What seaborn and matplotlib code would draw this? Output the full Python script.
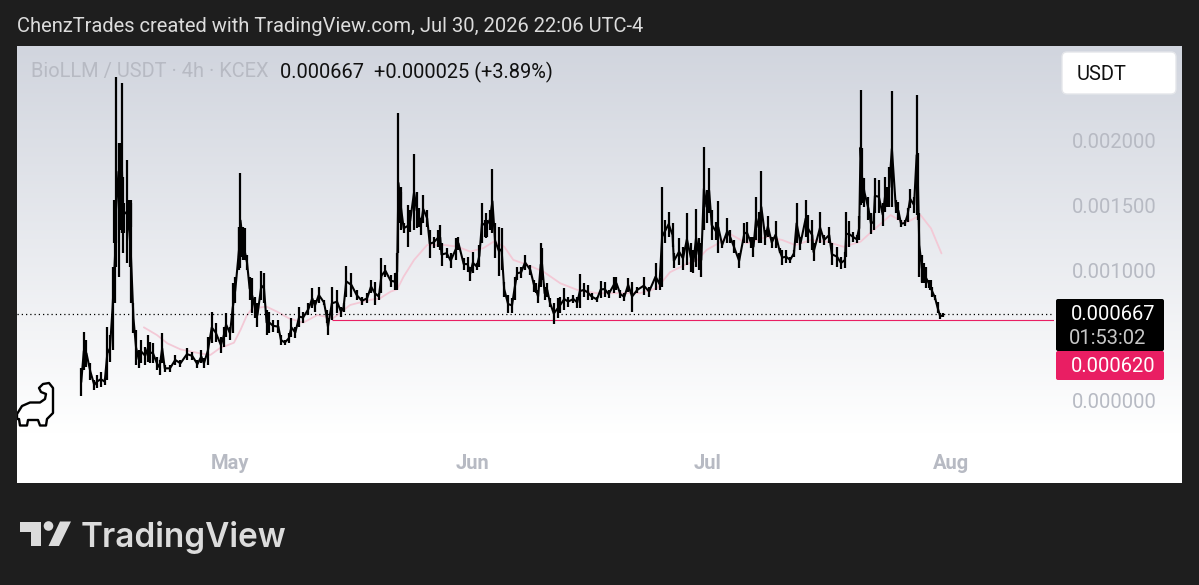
import numpy as np
import pandas as pd
import matplotlib
matplotlib.use("Agg")
import matplotlib.pyplot as plt
import matplotlib.dates as mdates
from matplotlib.patches import FancyBboxPatch, Polygon, Circle, Rectangle
from matplotlib.ticker import FuncFormatter
import seaborn as sns

# 4h candle number counted from Apr 12, high and low in millionths of USDT
bar_idx = [0, 2, 4, 7, 10, 12, 15, 18, 20, 22, 24, 26, 27, 29, 31, 32, 35, 37, 38, 40, 42, 44, 46, 49, 51, 53, 55, 58, 60, 62,
           64, 68, 72, 76, 81, 85, 89, 92, 94, 97, 100, 103, 107, 109, 111, 114, 116, 118, 121, 122, 124, 127, 129, 131, 133, 135, 138, 140, 142, 144,
           147, 151, 153, 156, 159, 161, 164, 167, 170, 174, 177, 179, 182, 186, 188, 189, 192, 196, 199, 201, 203, 207, 211, 215, 219,
           222, 225, 228, 230, 233, 237, 240, 242, 243, 245, 247, 250, 252, 255, 257, 259, 260, 262, 265, 267, 270, 273, 275, 276, 280,
           283, 287, 289, 293, 296, 298, 300, 303, 305, 307, 310, 313, 315, 317, 320, 322, 324, 327, 330, 332, 334, 337, 340, 344, 347,
           348, 350, 352, 353, 355, 357, 359, 362, 365, 367, 370, 373, 377, 380, 382, 385, 388, 391, 395, 398, 401, 404, 408, 410, 413,
           416, 419, 422, 426, 431, 435, 440, 443,
           445, 447, 450, 453, 454, 458, 461, 464, 467, 469, 471, 473, 475, 477, 479, 481, 483, 486, 488, 491, 495, 497, 500, 504, 508,
           510, 513, 515, 517, 519, 521, 524, 526, 529, 532, 535, 537, 540, 543, 546, 548, 551, 555, 557, 560, 561, 566, 569, 573, 575,
           579, 582, 585, 586, 588, 591, 594, 596, 597, 598, 600, 603, 605, 607, 608, 611, 614, 616, 619, 621, 624, 626, 628, 631, 633,
           635, 638, 640, 641, 642, 644, 647, 650, 652, 654, 656, 658, 660]
bar_high = [251, 533, 469, 290, 161, 200, 225, 174, 571, 507, 1033, 1520, 2494, 1981, 2448, 1725, 1853, 1545, 1520, 751, 546, 392, 469, 418, 507, 456, 443, 341, 315, 520,
            277, 277, 354, 315, 405, 379, 315, 392, 328, 495, 687, 597, 495, 571, 679, 571, 905, 956, 1340, 1756, 1340, 1123, 956, 943, 802, 751, 999, 982, 700, 687,
            623, 623, 507, 469, 520, 636, 571, 725, 687, 751, 866, 777, 879, 777, 700, 636, 879, 853, 725, 751, 1038, 982, 853, 802, 828,
            931, 918, 829, 1098, 1046, 970, 982, 1136, 2218, 1649, 1367, 1508, 1469, 1897, 1605, 1482, 1405, 1585, 1469, 1316, 1264, 1316, 1354, 1213, 1175,
            1136, 1251, 1264, 1098, 1110, 1034, 1144, 1059, 1200, 1521, 1444, 1469, 1782, 1367, 1341, 1328, 918, 816, 790, 957, 1034, 1034, 1123, 1046, 931,
            905, 854, 1218, 1175, 880, 905, 790, 752, 790, 803, 867, 803, 816, 803, 977, 905, 893, 829, 803, 926, 918, 854, 957, 957, 854,
            829, 944, 918, 880, 957, 880, 1059, 944,
            1648, 1392, 1456, 1366, 1135, 1251, 1186, 1443, 1212, 1161, 1474, 1251, 1212, 1950, 1622, 1794, 1468, 1379, 1540, 1225, 1404, 1315, 1238, 1135, 1366,
            1379, 1263, 1263, 1571, 1456, 1771, 1315, 1422, 1263, 1386, 1174, 1161, 1161, 1110, 1161, 1520, 1263, 1545, 1430, 1392, 1212, 1456, 1276, 1340, 1212,
            1186, 1110, 1148, 1456, 1386, 1302, 1276, 1422, 2391, 1943, 1712, 1571, 1443, 1443, 1712, 1699, 1520, 1725, 1796, 2386, 1545, 1532, 1392, 1392, 1481,
            1627, 1571, 2353, 1904, 1443, 1122, 1033, 930, 879, 815, 764, 674, 674]
bar_low = [38, 238, 264, 161, 85, 97, 110, 123, 161, 302, 392, 751, 1033, 956, 1289, 1135, 1058, 1033, 751, 520, 277, 251, 290, 277, 302, 290, 290, 238, 200, 290,
           225, 225, 277, 264, 315, 315, 251, 290, 251, 277, 443, 456, 366, 418, 495, 469, 520, 751, 1007, 1020, 1084, 1007, 777, 674, 636, 571, 777, 751, 507, 520,
           533, 520, 430, 430, 443, 495, 482, 571, 597, 661, 712, 687, 751, 738, 597, 507, 623, 674, 648, 687, 802, 802, 777, 738, 751,
           829, 739, 777, 829, 957, 880, 854, 854, 1136, 1316, 1290, 1182, 1303, 1316, 1328, 1341, 1277, 1367, 1341, 1103, 1175, 1187, 1162, 1039, 1098,
           1021, 1085, 1162, 1008, 995, 926, 982, 1008, 1034, 1213, 1251, 1316, 1290, 1103, 962, 1008, 803, 675, 680, 777, 931, 944, 1008, 970, 841,
           829, 752, 880, 931, 777, 803, 726, 593, 636, 675, 700, 726, 752, 713, 713, 803, 777, 777, 759, 790, 803, 790, 829, 854, 790,
           772, 841, 688, 829, 816, 803, 854, 854,
           879, 1212, 1263, 1186, 1020, 1045, 1007, 1045, 994, 981, 1033, 1007, 956, 1315, 1366, 1443, 1238, 1238, 1135, 1174, 1212, 1212, 1135, 1020, 1212,
           1212, 1174, 1110, 1238, 1212, 1212, 1199, 1263, 1174, 1174, 1135, 1045, 1058, 1058, 1110, 1212, 1161, 1263, 1212, 1161, 1079, 1212, 1199, 1212, 1045,
           1033, 1012, 1020, 1110, 1186, 1225, 1212, 1238, 1507, 1520, 1494, 1392, 1284, 1315, 1443, 1443, 1345, 1456, 1494, 1494, 1443, 1392, 1335, 1345, 1379,
           1481, 1443, 1430, 1392, 956, 917, 866, 853, 802, 776, 674, 628, 643]

# the places where candle bodies merge into solid black
body_idx = [26, 30, 32, 37, 122, 125, 244, 310, 598, 617, 645, 650]
body_top = [1545, 1981, 1520, 1545, 1340, 1328, 1610, 1392, 1699, 1648, 1058, 930]
body_bot = [1212, 1315, 1289, 1340, 1110, 1084, 1367, 1264, 1520, 1494, 905, 866]

# moving average drawn on the chart, same units
ma_idx = [48, 58, 66, 76, 91, 99, 106, 117, 122, 127, 131, 142, 150, 159, 170, 181, 193, 206, 221, 229, 237, 242, 247, 255, 265, 278, 288, 298, 308, 316,
          324, 331, 342, 354, 367, 380, 395, 413, 428, 441, 451, 462, 472, 479, 488, 497, 510, 525, 537, 547, 559, 571, 584, 597, 607, 620, 631, 643, 651, 659]
ma_val = [566, 507, 443, 397, 366, 354, 405, 448, 546, 661, 712, 725, 687, 636, 602, 661, 636, 738, 777, 790, 841, 859, 957, 1085, 1200, 1200, 1187, 1149, 1175, 1226,
          1187, 1085, 1046, 995, 905, 854, 829, 829, 829, 867, 990, 1045, 1084, 1161, 1212, 1284, 1212, 1263, 1238, 1199, 1238, 1225, 1186, 1225, 1315, 1430, 1366, 1430, 1327, 1135]

price_ticks = [0.0, 0.001, 0.0015, 0.002]
last_price = 0.000667
level_price = 0.00062
level_start_idx = 192
start_date = pd.Timestamp("2026-04-12")

W, H = 1199, 585
BG = "#1e1e1e"
GREY = "#b7bac3"
PINK = "#e91e63"


def fx(px):
    return px / W


def fy(py):
    return 1 - py / H


def px_rect(left, top, right, bottom):
    return [fx(left), fy(bottom), (right - left) / W, (bottom - top) / H]


def to_dates(idx):
    return start_date + pd.to_timedelta(np.array(idx) * 4, unit="h")


sns.set_theme(style="white")
plt.rcParams["font.family"] = ["Roboto", "DejaVu Sans"]

fig = plt.figure(figsize=(W / 100, H / 100), dpi=100, facecolor=BG)

# panel background with the vertical gradient
bg_ax = fig.add_axes(px_rect(17, 46, 1182, 483), zorder=0)
top_col = np.array(matplotlib.colors.to_rgb("#d1d5de"))
grad = np.clip(np.linspace(0, 1.13, 256), 0, 1)[:, None, None]
bg_ax.imshow(top_col + (1 - top_col) * grad, aspect="auto")
bg_ax.axis("off")

ax = fig.add_axes(px_rect(17, 46, 1054, 483), zorder=1)
ax.patch.set_alpha(0)

bars = pd.DataFrame({"date": to_dates(bar_idx),
                     "high": np.array(bar_high) * 1e-6,
                     "low": np.array(bar_low) * 1e-6})
bars["mid"] = (bars["high"] + bars["low"]) / 2
ma = pd.DataFrame({"date": to_dates(ma_idx), "ma": np.array(ma_val) * 1e-6})

sns.lineplot(data=ma, x="date", y="ma", color="#f3c9d6", lw=1.3, ax=ax, zorder=2)
ax.hlines(level_price, to_dates([level_start_idx])[0], pd.Timestamp("2026-08-16"),
          color=PINK, lw=0.8, zorder=2)
ax.axhline(last_price, color="black", lw=0.9, ls=(0, (1, 2.4)), zorder=2)

ax.vlines(bars["date"], bars["low"], bars["high"], color="black", lw=1.6, zorder=3)
sns.lineplot(data=bars, x="date", y="mid", color="black", lw=1.5, ax=ax, zorder=3)
ax.vlines(to_dates(body_idx), np.array(body_bot) * 1e-6, np.array(body_top) * 1e-6,
          color="black", lw=3.0, zorder=3)

ax.set_xlim(pd.Timestamp("2026-05-01") - pd.Timedelta(days=27.2),
            pd.Timestamp("2026-05-01") + pd.Timedelta(days=105.2))
ax.set_ylim(-631e-6, 2730e-6)
ax.set_xlabel("")
ax.set_ylabel("")
ax.xaxis.set_major_locator(mdates.MonthLocator())
ax.xaxis.set_major_formatter(mdates.DateFormatter("%b"))
ax.tick_params(axis="x", direction="in", length=0, pad=-21, colors=GREY, labelsize=14.5)
for lab in ax.get_xticklabels():
    lab.set_fontweight("bold")
ax.yaxis.tick_right()
ax.set_yticks(price_ticks)
ax.yaxis.set_major_formatter(FuncFormatter(lambda v, p: f"{v:.6f}"))
ax.tick_params(axis="y", length=0, pad=13, colors=GREY, labelsize=14.5)
sns.despine(ax=ax, left=True, right=True, top=True, bottom=True)

# header texts
fig.text(fx(17), fy(27), "ChenzTrades created with TradingView.com, Jul 30, 2026 22:06 UTC-4",
         color="#dcdcdc", fontsize=14.5, va="center", ha="left")
fig.text(fx(31), fy(72), "BioLLM / USDT · 4h · KCEX", color=GREY, fontsize=14.4, va="center", zorder=5)
fig.text(fx(280), fy(72), "0.000667  +0.000025 (+3.89%)", color="#111111", fontsize=14.45, va="center", zorder=5)

# overlay for boxes and logos, in pixel coordinates
ov = fig.add_axes([0, 0, 1, 1], zorder=4)
ov.set_xlim(0, W)
ov.set_ylim(H, 0)
ov.axis("off")

ov.add_patch(FancyBboxPatch((1062, 52), 114, 42, boxstyle="round,pad=0,rounding_size=5",
                            fc="white", ec="#e4e6ea", lw=1))
ov.text(1077, 74, "USDT", fontsize=14.5, color="#111111", va="center")

ov.add_patch(FancyBboxPatch((1056, 299), 108, 52, boxstyle="round,pad=0,rounding_size=2",
                            fc="black", ec="none"))
ov.add_patch(FancyBboxPatch((1056, 351), 108, 29, boxstyle="round,pad=0,rounding_size=2",
                            fc=PINK, ec="none"))
ov.text(1113, 315, "0.000667", fontsize=14.5, color="white", va="center", ha="center")
ov.text(1108, 338, "01:53:02", fontsize=14.5, color="#c8c8c8", va="center", ha="center")
ov.text(1113, 367, "0.000620", fontsize=14.5, color="white", va="center", ha="center")

# dinosaur
dino_verts = [(17, 414), (22, 406), (30, 402.5), (40, 402.5), (45, 399), (46, 394), (41, 392), (39, 388),
              (43, 384), (49, 383), (53, 388), (53, 413), (49, 417), (47, 419), (46, 425.5), (40, 425.5),
              (38, 420), (28, 420), (27, 425.5), (20, 425.5), (19, 419), (17, 419)]
ov.add_patch(Polygon(dino_verts, closed=True, fc="white", ec="black", lw=1.7, joinstyle="round"))
ov.add_patch(Rectangle((0, 0), 17, H, fc=BG, ec="none", zorder=5))

# TradingView logo
logo = "#dcdcdc"
ov.add_patch(Polygon([(20, 521.5), (41, 521.5), (41, 546), (31, 546), (31, 532), (20, 532)], fc=logo, ec="none"))
ov.add_patch(Circle((48.5, 526), 4.8, fc=logo, ec="none"))
ov.add_patch(Polygon([(60, 521.5), (71, 521.5), (59, 546), (48.5, 546)], fc=logo, ec="none"))
ov.text(81, 538, "TradingView", fontsize=24, fontweight="semibold", family=["Inter", "DejaVu Sans"],
        color=logo, va="center", ha="left")

fig.savefig("out.png", dpi=100, facecolor=BG)
